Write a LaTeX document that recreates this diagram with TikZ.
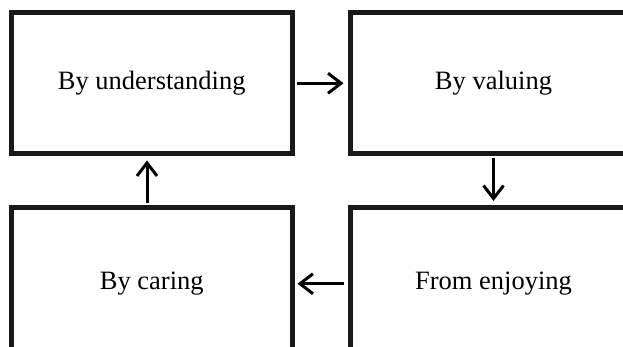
\documentclass[tikz,border=0pt]{standalone}
\usepackage{fontspec}
\setmainfont{Liberation Serif}
\usetikzlibrary{arrows.meta,positioning}

\begin{document}
\begin{tikzpicture}[x=1pt,y=1pt,
  stage/.style={draw=black!90, line width=5pt, minimum width=280.5pt, minimum height=141.5pt, font=\fontsize{26.5}{31}\selectfont},
  flow/.style={line width=3pt, -{Straight Barb[length=13pt,width=20pt]}}]
\useasboundingbox (0,0) rectangle (623,347);
\clip (0,0) rectangle (623,347);
% top row
\node[stage] (und) at (151.75,263.75) {By understanding};
\node[stage, minimum width=287pt] (val) at (493.5,263.75) {By valuing};
% bottom row
\node[stage, minimum height=152.5pt] (car) at (151.75,63.25) {By caring};
\node[stage, minimum width=287pt, minimum height=152.5pt] (enj) at (493.5,63.25) {From enjoying};
% cycle
\draw[flow, shorten <=2pt, shorten >=4pt] (und.east) -- (val.west);
\draw[flow, shorten <=2pt, shorten >=4pt] (val.south) -- (enj.north);
\draw[flow, shorten <=4pt, shorten >=3pt] (enj.west) -- (car.east);
\draw[flow, shorten <=2pt, shorten >=4pt] ([xshift=-4.75pt]car.north) -- ([xshift=-4.75pt]und.south);
\end{tikzpicture}
\end{document}
